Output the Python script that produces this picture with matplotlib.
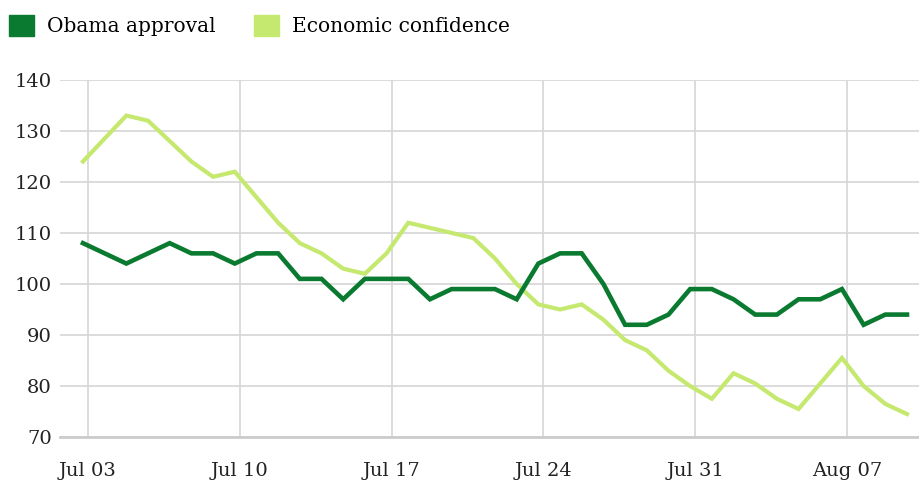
import numpy as np
import matplotlib
matplotlib.use("Agg")
import matplotlib.pyplot as plt
from matplotlib.patches import Patch

# ---------------------------------------------------------
# DATOS (un punto por día, del 3 de julio al 10 de agosto)
# ---------------------------------------------------------
dias = np.arange(39)

obama_approval = [108, 106, 104, 106, 108, 106, 106, 104, 106, 106,
                  101, 101, 97, 101, 101, 101, 97, 99, 99, 99,
                  97, 104, 106, 106, 100, 92, 92, 94, 99, 99,
                  97, 94, 94, 97, 97, 99, 92, 94, 94]

economic_confidence = [124, 128.5, 133, 132, 128, 124, 121, 122, 117, 112,
                       108, 106, 103, 102, 106, 112, 111, 110, 109, 105,
                       100, 96, 95, 96, 93, 89, 87, 83, 80, 77.5,
                       82.5, 80.5, 77.5, 75.5, 80.5, 85.5, 80, 76.5, 74.5]

tick_dias = [0, 7, 14, 21, 28, 35]
tick_labels = ["Jul 03", "Jul 10", "Jul 17", "Jul 24", "Jul 31", "Aug 07"]
y_ticks = [70, 80, 90, 100, 110, 120, 130, 140]

verde_oscuro = "#0a7a30"
verde_claro = "#c5e86e"

plt.rcParams["font.family"] = ["DejaVu Serif"]

# ---------------------------------------------------------
# FIGURA
# ---------------------------------------------------------
fig = plt.figure(figsize=(9.2, 4.84), dpi=100)
ax = fig.add_axes([0.0652, 0.097, 0.9348, 0.738])

ax.plot(dias, economic_confidence, color=verde_claro, lw=3.0,
        solid_joinstyle="miter", zorder=3)
ax.plot(dias, obama_approval, color=verde_oscuro, lw=3.3,
        solid_joinstyle="miter", zorder=4)

ax.set_ylim(70, 140)
ax.set_xlim(-1.06, 38.6)
ax.set_yticks(y_ticks)
# las rejillas verticales quedan algo a la derecha de cada punto
ax.set_xticks([d + 0.23 for d in tick_dias])
ax.set_xticklabels(tick_labels)

ax.grid(True, color="#d6d6d6", lw=1.2)
ax.set_axisbelow(True)
for lado in ["top", "right", "left"]:
    ax.spines[lado].set_visible(False)
ax.spines["bottom"].set_color("#cccccc")
ax.spines["bottom"].set_linewidth(2)

ax.tick_params(axis="both", length=0, labelsize=14, colors="#222222")
ax.tick_params(axis="x", pad=18)
ax.tick_params(axis="y", pad=6)

# ---------------------------------------------------------
# LEYENDA
# ---------------------------------------------------------
handles = [Patch(color=verde_oscuro), Patch(color=verde_claro)]
fig.legend(handles, ["Obama approval", "Economic confidence"],
           loc="upper left", bbox_to_anchor=(9 / 920, 1 - 15 / 484), ncol=2,
           frameon=False, fontsize=14.5, handlelength=1.25, handleheight=1.25,
           handletextpad=0.65, columnspacing=1.9, borderpad=0,
           borderaxespad=0)

plt.savefig("out.png", dpi=100)
